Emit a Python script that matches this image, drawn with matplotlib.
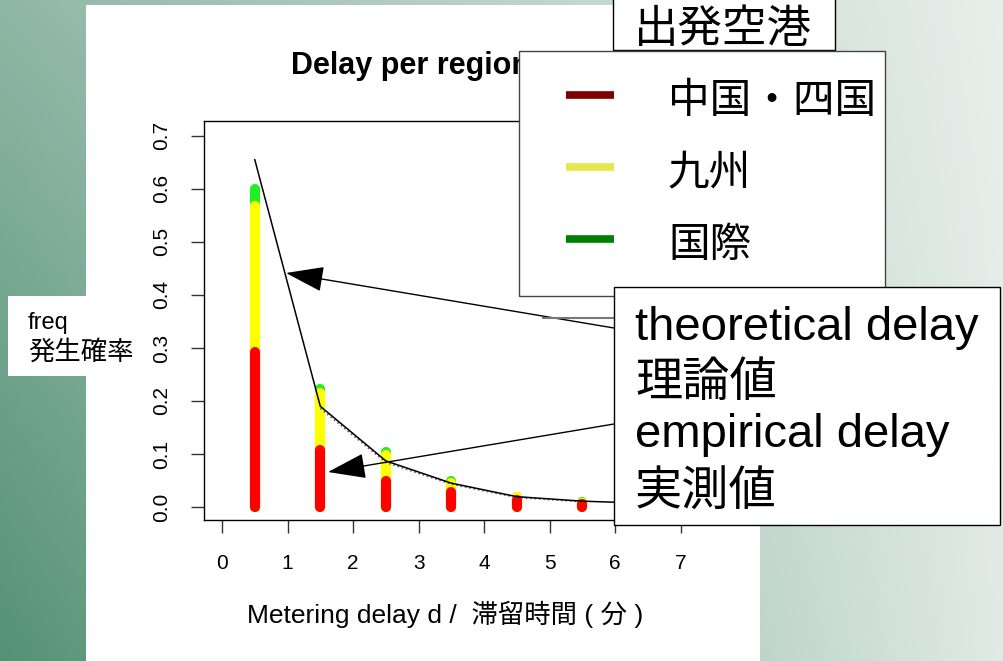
import numpy as np
import matplotlib
matplotlib.use("Agg")
import matplotlib.pyplot as plt
from matplotlib.patches import Rectangle

plt.rcParams['font.family'] = ['Liberation Sans', 'Noto Sans CJK JP', 'DejaVu Sans']

# ---------------- data ----------------
delay_bins = [0.5, 1.5, 2.5, 3.5, 4.5, 5.5]
freq_chugoku_shikoku = [0.292, 0.108, 0.049, 0.028, 0.013, 0.006]
freq_kyushu = [0.276, 0.107, 0.049, 0.017, 0.005, 0.002]
freq_international = [0.032, 0.008, 0.006, 0.004, 0.001, 0.001]

theory_x = [0.5, 1.5, 2.5, 3.5, 4.5, 5.5, 6.5]
theory_y = [0.655, 0.190, 0.087, 0.045, 0.0195, 0.011, 0.007]

empirical_x = [1.5, 2.5, 3.5, 4.5, 5.5]
empirical_y = [0.186, 0.084, 0.043, 0.018, 0.010]

x_ticks = [0, 1, 2, 3, 4, 5, 6, 7]
y_ticks = [0.0, 0.1, 0.2, 0.3, 0.4, 0.5, 0.6, 0.7]
legend_labels = ['中国・四国', '九州', '国際']
legend_colors = ['#800000', '#E6E64D', '#008000']
bar_colors = ['#FF0000', '#FFFF00', '#22EE22']

W, H = 1004, 661
fig = plt.figure(figsize=(W / 100, H / 100), dpi=100)

# ---------------- background ----------------
bg = fig.add_axes([0, 0, 1, 1], zorder=-10)
bg.axis('off')
xx, yy = np.meshgrid(np.arange(W), np.arange(H))
d = (0.95 - 0.00083 * xx) * (0.63 + 0.37 * yy / H)
d = np.clip(d, 0, 1)[..., None]
dark = np.array([75, 140, 110]) / 255
light = np.array([245, 247, 246]) / 255
img = light * (1 - d) + dark * d
bg.imshow(img, extent=[0, W, H, 0], aspect='auto', interpolation='bilinear')
bg.set_xlim(0, W)
bg.set_ylim(H, 0)
bg.add_patch(Rectangle((86, 5), 760 - 86, H - 5, facecolor='white', edgecolor='none'))

# ---------------- main chart ----------------
ax = fig.add_axes([204 / W, 1 - 520 / H, 495 / W, 399 / H], zorder=0)
ax.set_xlim(-0.275, 7.28)
ax.set_ylim(-0.0245, 0.728)

cum = np.zeros(len(delay_bins))
stacks = []
for vals in [freq_chugoku_shikoku, freq_kyushu, freq_international]:
    cum = cum + np.array(vals)
    stacks.append(cum.copy())
# draw tallest first so lower segments sit on top
for top, col in zip(reversed(stacks), reversed(bar_colors)):
    ax.vlines(delay_bins, 0, top, colors=col, linewidth=7.3, capstyle='round', zorder=2)

ax.plot(empirical_x, empirical_y, color='#666666', linestyle=':', linewidth=1.2, zorder=3)
ax.plot(theory_x, theory_y, color='black', linewidth=1.1, zorder=4)

ax.set_xticks(x_ticks)
ax.set_xticklabels([str(t) for t in x_ticks])
ax.set_yticks(y_ticks)
ax.set_yticklabels([f'{t:.1f}' for t in y_ticks], rotation=90, va='center')
ax.tick_params(axis='both', direction='out', length=9.5, width=1, color='#333333',
               labelsize=15)
ax.tick_params(axis='x', pad=15)
ax.tick_params(axis='y', pad=14)
for s in ax.spines.values():
    s.set_color('black')
    s.set_linewidth(1)
ax.set_xlabel('Metering delay d /  滞留時間 ( 分 )', fontsize=19)
ax.xaxis.set_label_coords((445 - 204) / 495, -(614 - 520) / 399)
ax.xaxis.label.set_va('center')

# ---------------- overlay (slide annotations) ----------------
ov = fig.add_axes([0, 0, 1, 1], zorder=10)
ov.set_xlim(0, W)
ov.set_ylim(H, 0)
ov.axis('off')
ov.patch.set_alpha(0)

ov.text(291, 66, 'Delay per region', fontsize=22, fontweight='bold', ha='left',
        va='center', zorder=1)

# freq label box
ov.add_patch(Rectangle((8, 296), 132, 80, facecolor='white', edgecolor='none', zorder=1))
ov.text(28, 323, 'freq', fontsize=17, ha='left', va='center', zorder=2)
ov.text(28, 352, '発生確率', fontsize=19, ha='left', va='center', zorder=2)

# arrows
arrow_kw = dict(arrowstyle='-|>,head_length=2.4,head_width=0.8', mutation_scale=10,
                color='black', lw=1, shrinkA=0, shrinkB=0)
ov.annotate('', xy=(286, 273), xytext=(614, 328), arrowprops=arrow_kw, zorder=2)
ov.annotate('', xy=(328, 472), xytext=(614, 424), arrowprops=arrow_kw, zorder=2)
ov.plot([543, 613], [318, 318], color='#777777', lw=1.5, zorder=2)

# 出発空港 box
ov.add_patch(Rectangle((613, -5), 222, 55, facecolor='white', edgecolor='black',
                       lw=1, zorder=3))
ov.text(723, 30, '出発空港', fontsize=32, ha='center', va='center', zorder=3.5)

# legend box
ov.add_patch(Rectangle((519, 51), 366, 245, facecolor='white', edgecolor='#444444',
                       lw=1, zorder=4))
for i, (lab, col) in enumerate(zip(legend_labels, legend_colors)):
    yl = 95 + i * 72
    ov.plot([566, 614], [yl, yl], color=col, lw=5.5, solid_capstyle='butt', zorder=4.5)
    ov.text(668, yl + 7, lab, fontsize=30, ha='left', va='center', zorder=4.5)

# explanation text box
ov.add_patch(Rectangle((614, 287), 386, 238, facecolor='white', edgecolor='black',
                       lw=1, zorder=5))
for yl, txt in zip([328, 384, 435, 494],
                   ['theoretical delay', '理論値', 'empirical delay', '実測値']):
    ov.text(635, yl, txt, fontsize=34, ha='left', va='center', zorder=5.5)

fig.savefig('out.png', dpi=100)
